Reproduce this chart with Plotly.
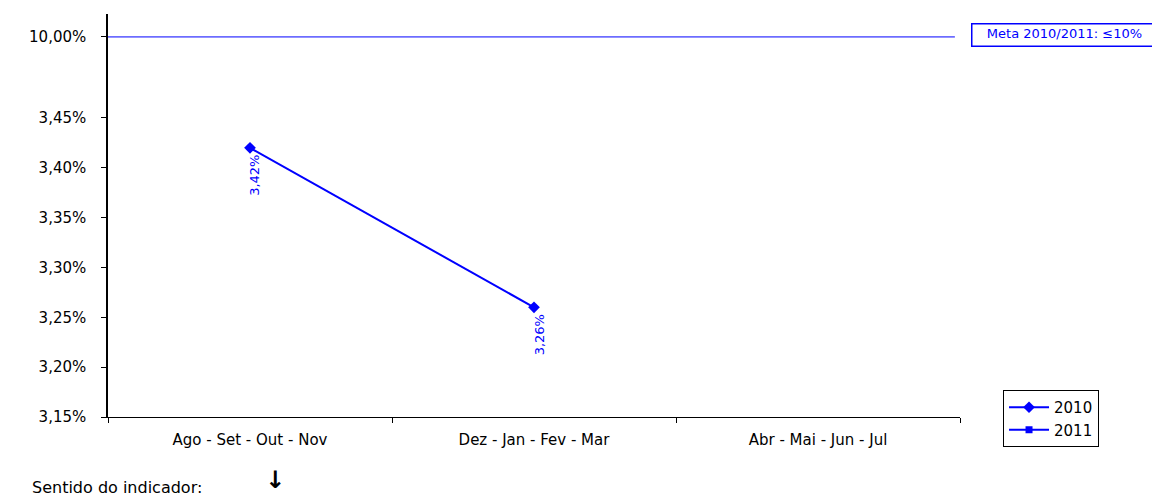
import plotly.graph_objects as go

categories = ["Ago - Set - Out - Nov", "Dez - Jan - Fev - Mar", "Abr - Mai - Jun - Jul"]
series_2010 = [3.42, 3.26, None]
series_2011 = [None, None, None]
labels_2010 = ["3,42%", "3,26%", None]
meta_value = 10.0
tick_values = [3.15, 3.20, 3.25, 3.30, 3.35, 3.40, 3.45, 10.0]
tick_labels = ["3,15%", "3,20%", "3,25%", "3,30%", "3,35%", "3,40%", "3,45%", "10,00%"]

# broken axis: values above the break are drawn at a fixed position
BREAK_LOW = 3.45
BREAK_POS = 3.5313


def ymap(v):
    if v is None:
        return None
    return BREAK_POS if v > BREAK_LOW + 0.5 else v


BLUE = "#0000FF"
FONT = "DejaVu Sans"

fig = go.Figure()
fig.add_trace(go.Scatter(
    x=categories, y=[ymap(v) for v in series_2010], name="2010",
    mode="lines+markers",
    line=dict(color=BLUE, width=2),
    marker=dict(symbol="diamond", size=9, color=BLUE),
))
fig.add_trace(go.Scatter(
    x=categories, y=series_2011, name="2011",
    mode="lines+markers",
    line=dict(color=BLUE, width=2),
    marker=dict(symbol="square", size=7, color=BLUE),
))

for c, v, t in zip(categories, series_2010, labels_2010):
    if v is None:
        continue
    fig.add_annotation(x=c, y=ymap(v), text=t, showarrow=False, textangle=-90,
                       xshift=5, yshift=-28, font=dict(color=BLUE, size=13, family=FONT))

# meta line
fig.add_shape(type="line", xref="paper", x0=0, x1=0.994, yref="y",
              y0=ymap(meta_value), y1=ymap(meta_value), line=dict(color=BLUE, width=1))
fig.add_annotation(xref="paper", yref="paper", x=1.0129, y=0.977, xanchor="left", yanchor="top",
                   text="Meta 2010/2011: ≤10%", showarrow=False, width=182, height=19,
                   align="center", valign="top", bordercolor=BLUE, borderwidth=1.5, borderpad=1,
                   font=dict(color=BLUE, size=13, family=FONT))

fig.add_annotation(xref="paper", yref="paper", x=-0.0915, y=-0.176, xanchor="left", yanchor="middle",
                   text="Sentido do indicador:", showarrow=False,
                   font=dict(color="black", size=16, family=FONT))
fig.add_annotation(xref="paper", yref="paper", x=0.196, y=-0.157, xanchor="center", yanchor="middle",
                   text="<b>↓</b>", showarrow=False,
                   font=dict(color="black", size=24, family=FONT))

fig.update_layout(
    width=1152, height=489,
    margin=dict(l=100, r=200, t=6, b=80, autoexpand=False),
    paper_bgcolor="white", plot_bgcolor="white",
    font=dict(family=FONT, size=14, color="black"),
    showlegend=True,
    legend=dict(x=1.0505, y=0.067, xanchor="left", yanchor="top",
                bordercolor="black", borderwidth=1, bgcolor="white",
                font=dict(size=15, family=FONT), itemwidth=40, tracegroupgap=0),
    xaxis=dict(type="category", range=[-0.5, 2.5], tickson="boundaries",
               ticks="outside", ticklen=5, tickcolor="black", automargin=False,
               ticklabelstandoff=9,
               showline=True, linecolor="black", linewidth=1, showgrid=False,
               zeroline=False, tickfont=dict(size=15)),
    yaxis=dict(range=[3.15, 3.5543], tickvals=[ymap(v) for v in tick_values], ticktext=tick_labels,
               ticks="outside", ticklen=5, tickcolor="black", automargin=False,
               ticklabelstandoff=12,
               showline=True, linecolor="black", linewidth=1.5, showgrid=False,
               zeroline=False, tickfont=dict(size=15)),
)

fig.write_html("out.html")
